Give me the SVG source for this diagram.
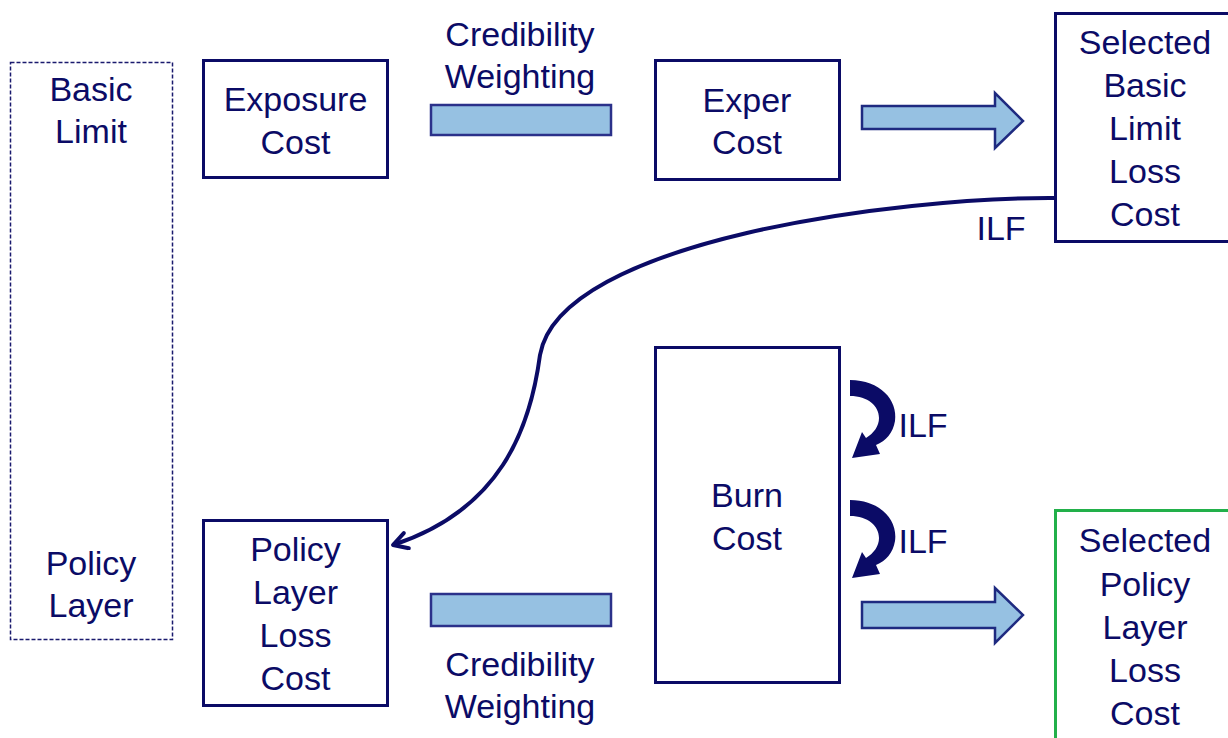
<svg xmlns="http://www.w3.org/2000/svg" width="1228" height="738" viewBox="0 0 1228 738">
<defs>
<style>
.t{font-family:"Liberation Sans",Arial,sans-serif;font-size:34px;fill:#0b0b66;text-anchor:middle}
.box{fill:#fff;stroke:#0b0b66;stroke-width:3}
.bar{fill:#96c1e2;stroke:#2b318a;stroke-width:2.5}
.ar{fill:#96c1e2;stroke:#1e2a80;stroke-width:2.5;stroke-linejoin:miter}
.curl{fill:#0b0b66}
</style>
<marker id="chev" viewBox="0 0 20 20" refX="17" refY="10" markerWidth="20" markerHeight="20" markerUnits="userSpaceOnUse" orient="auto">
<path d="M3,2 L17,10 L3,18" fill="none" stroke="#0b0b66" stroke-width="4" stroke-linecap="round" stroke-linejoin="round"/>
</marker>
</defs>
<rect width="1228" height="738" fill="#fff"/>
<g id="basic-policy-band">
<rect x="10.5" y="62.5" width="162" height="577" fill="none" stroke="#1a1a6e" stroke-width="1.5" stroke-dasharray="4,2"/>
<text class="t" x="91" y="101">Basic</text>
<text class="t" x="91" y="143">Limit</text>
<text class="t" x="91" y="575">Policy</text>
<text class="t" x="91" y="617">Layer</text>
</g>
<g id="exposure-cost">
<rect class="box" x="203.5" y="60.5" width="184" height="117"/>
<text class="t" x="295.5" y="111">Exposure</text>
<text class="t" x="295.5" y="154">Cost</text>
</g>
<g id="cred-top">
<text class="t" x="520" y="46">Credibility</text>
<text class="t" x="520" y="88">Weighting</text>
<rect class="bar" x="431" y="105" width="180" height="30"/>
</g>
<g id="exper-cost">
<rect class="box" x="655.5" y="60.5" width="184" height="119"/>
<text class="t" x="747" y="112">Exper</text>
<text class="t" x="747" y="154">Cost</text>
</g>
<g id="selected-basic">
<rect class="box" x="1055.5" y="13.5" width="180" height="228"/>
<text class="t" x="1145" y="54">Selected</text>
<text class="t" x="1145" y="97">Basic</text>
<text class="t" x="1145" y="140">Limit</text>
<text class="t" x="1145" y="183">Loss</text>
<text class="t" x="1145" y="226">Cost</text>
</g>
<g id="burn-cost">
<rect class="box" x="655.5" y="347.5" width="184" height="335"/>
<text class="t" x="747" y="507">Burn</text>
<text class="t" x="747" y="550">Cost</text>
</g>
<g id="policy-layer-loss-cost">
<rect class="box" x="203.5" y="520.5" width="184" height="185"/>
<text class="t" x="295.5" y="561">Policy</text>
<text class="t" x="295.5" y="604">Layer</text>
<text class="t" x="295.5" y="647">Loss</text>
<text class="t" x="295.5" y="690">Cost</text>
</g>
<g id="cred-bottom">
<rect class="bar" x="431" y="594" width="180" height="32"/>
<text class="t" x="520" y="676">Credibility</text>
<text class="t" x="520" y="718">Weighting</text>
</g>
<g id="selected-policy">
<rect x="1055.5" y="510.5" width="180" height="240" fill="#fff" stroke="#22b04a" stroke-width="3"/>
<text class="t" x="1145" y="552">Selected</text>
<text class="t" x="1145" y="596">Policy</text>
<text class="t" x="1145" y="639">Layer</text>
<text class="t" x="1145" y="682">Loss</text>
<text class="t" x="1145" y="725">Cost</text>
</g>
<g id="connectors">
<path class="ar" d="M862,106 L995,106 L995,93 L1023,121 L995,148 L995,129 L862,129 Z"/>
<path class="ar" d="M862,602 L995,602 L995,588 L1023,615 L995,643 L995,628 L862,628 Z"/>
<path d="M1055,198 C 900,197 560,240 540,355 C 530,430 500,510 393,545" fill="none" stroke="#0b0b66" stroke-width="4" marker-end="url(#chev)"/>
<text class="t" x="1001" y="240">ILF</text>
<path class="curl" transform="translate(850,380)" d="M0,0 C30,0 48,20 45,41 C43,53 36,61 26,65 L30,74 L2,78 L12,52 L16,58 C24,53 29,46 29,38 C29,26 18,16 0,16 Z"/>
<text class="t" x="923" y="437">ILF</text>
<path class="curl" transform="translate(850,500)" d="M0,0 C30,0 48,20 45,41 C43,53 36,61 26,65 L30,74 L2,78 L12,52 L16,58 C24,53 29,46 29,38 C29,26 18,16 0,16 Z"/>
<text class="t" x="923" y="553">ILF</text>
</g>
</svg>
